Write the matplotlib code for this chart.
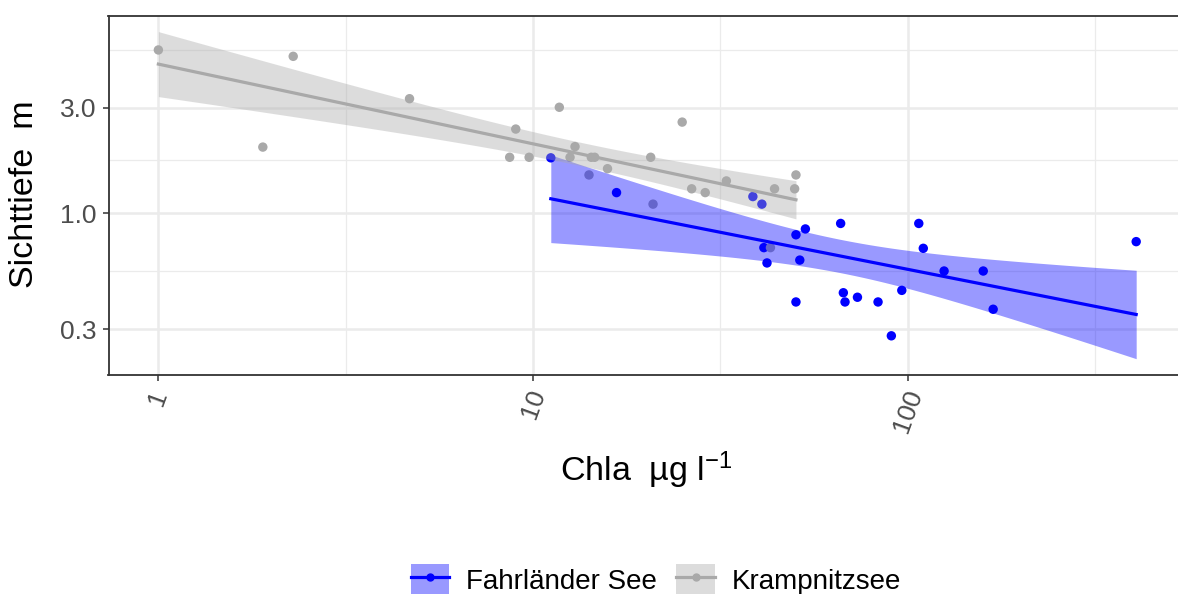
import math
import numpy as np
import matplotlib
matplotlib.use("Agg")
import matplotlib.pyplot as plt
from matplotlib.patches import Patch
from matplotlib.lines import Line2D
from matplotlib.legend_handler import HandlerTuple

plt.rcParams['font.family'] = ['Liberation Sans', 'DejaVu Sans']
plt.rcParams['mathtext.fontset'] = 'custom'
plt.rcParams['mathtext.rm'] = 'Liberation Sans'
plt.rcParams['mathtext.it'] = 'Liberation Sans:italic'

krampnitz_chla = [1.0, 2.29, 4.68, 1.90, 11.75, 8.99, 8.66, 9.76, 12.55, 12.94, 14.3, 14.6,
                  15.8, 14.1, 20.9, 20.6, 25.0, 26.5, 28.8, 32.8, 44.1, 50.3, 49.9, 43.0]
krampnitz_secchi = [5.46, 5.11, 3.29, 1.99, 3.01, 2.40, 1.79, 1.79, 1.79, 2.00, 1.79, 1.79,
                    1.59, 1.49, 1.10, 1.79, 2.58, 1.29, 1.24, 1.40, 1.29, 1.49, 1.29, 0.70]

fahrland_chla = [11.15, 16.7, 38.6, 40.8, 53.3, 50.3, 66.2, 41.3, 42.1, 51.5, 67.3, 68.0,
                 73.4, 83.3, 50.3, 90.4, 96.4, 107, 110, 125, 159, 169, 407]
fahrland_secchi = [1.78, 1.24, 1.19, 1.10, 0.85, 0.80, 0.90, 0.70, 0.597, 0.615, 0.438, 0.398,
                   0.418, 0.398, 0.398, 0.280, 0.449, 0.90, 0.695, 0.549, 0.549, 0.369, 0.745]

lake_names = ["Fahrländer See", "Krampnitzsee"]
lake_colors = ["#0000FF", "#A9A9A9"]

x_breaks = [1, 10, 100]
x_labels = ["1", "10", "100"]
y_breaks = [0.3, 1, 3]
y_labels = ["0.3", "1.0", "3.0"]


def t_quantile(p, df):
    xs = np.linspace(0, 12, 240001)
    c = math.gamma((df + 1) / 2) / (math.sqrt(df * math.pi) * math.gamma(df / 2))
    pdf = c * (1 + xs ** 2 / df) ** (-(df + 1) / 2)
    cdf = 0.5 + np.concatenate([[0], np.cumsum((pdf[1:] + pdf[:-1]) / 2 * (xs[1] - xs[0]))])
    return np.interp(p, cdf, xs)


def lm_smooth(x, y, n=80):
    lx, ly = np.log10(x), np.log10(y)
    A = np.vstack([np.ones_like(lx), lx]).T
    beta, *_ = np.linalg.lstsq(A, ly, rcond=None)
    resid = ly - A @ beta
    dof = len(lx) - 2
    sigma = np.sqrt(np.sum(resid ** 2) / dof)
    grid = np.linspace(lx.min(), lx.max(), n)
    fit = beta[0] + beta[1] * grid
    se = sigma * np.sqrt(1 / len(lx) + (grid - lx.mean()) ** 2 / np.sum((lx - lx.mean()) ** 2))
    t = t_quantile(0.975, dof)
    return 10 ** grid, 10 ** fit, 10 ** (fit - t * se), 10 ** (fit + t * se)


def minor_breaks(breaks):
    # wie ggplot: Mittelpunkte zwischen den Hauptbrüchen (log-Raum), an den Enden erweitert
    b = np.log10(breaks)
    step = b[1] - b[0]
    ext = np.concatenate([[b[0] - step], b, [b[-1] + step]])
    return 10 ** ((ext[:-1] + ext[1:]) / 2)


W, H = 1178, 594
fig = plt.figure(figsize=(W / 100, H / 100), dpi=100)
left, right, top, bottom = 108.5, 1184, 16, 374.5
ax = fig.add_axes([left / W, 1 - bottom / H, (right - left) / W, (bottom - top) / H])
ax.set_xscale("log")
ax.set_yscale("log")

groups = [(fahrland_chla, fahrland_secchi), (krampnitz_chla, krampnitz_secchi)]

# Punkte zuerst (liegen unter den Bändern)
for (cx, sy), col in zip(groups, lake_colors):
    ax.scatter(cx, sy, s=46, color=col, edgecolors="none", zorder=2)

z = 3
for (cx, sy), col in zip(groups, lake_colors):
    gx, gfit, glo, ghi = lm_smooth(np.array(cx), np.array(sy))
    ax.fill_between(gx, glo, ghi, color=col, alpha=0.4, linewidth=0, zorder=z)
    ax.plot(gx, gfit, color=col, lw=2.3, zorder=z + 1)
    z += 2

ax.set_xticks(x_breaks)
ax.set_xticklabels(x_labels, rotation=70)
ax.set_yticks(y_breaks)
ax.set_yticklabels(y_labels)
ax.set_xticks(minor_breaks(x_breaks), minor=True)
ax.set_yticks(minor_breaks(y_breaks), minor=True)
ax.xaxis.set_minor_formatter(plt.NullFormatter())
ax.yaxis.set_minor_formatter(plt.NullFormatter())
ax.set_xlim(0.736, 546)
ax.set_ylim(0.1873, 7.77)

ax.tick_params(which="major", length=4.5, width=1.1, color="#333333", labelcolor="#4D4D4D",
               labelsize=19, pad=4)
ax.tick_params(which="minor", length=0)
ax.grid(which="major", color="#EBEBEB", lw=1.8)
ax.grid(which="minor", color="#EBEBEB", lw=0.9)
ax.set_axisbelow(True)
for sp in ax.spines.values():
    sp.set_color("#333333")
    sp.set_linewidth(1.3)

fig.text(646 / W, 1 - 481 / H, r"Chla  µg l$^{-1}$", ha="center", va="baseline", fontsize=24.5)
fig.text(25 / W, 1 - 194 / H, "Sichttiefe  m", rotation=90, ha="center", va="center", fontsize=24.5)

handles = [(Patch(facecolor=c, alpha=0.4, edgecolor="none"),
            Line2D([], [], color=c, lw=2.3, marker="o", ms=5)) for c in lake_colors]
ax.legend(handles, lake_names, handler_map={tuple: HandlerTuple(ndivide=1, pad=0)},
          loc="center", bbox_to_anchor=(656 / W, 1 - 580 / H), bbox_transform=fig.transFigure,
          ncol=2, frameon=False, fontsize=20, handlelength=1.4, handleheight=1.4,
          handletextpad=0.6, columnspacing=0.7)

fig.savefig("out.png", dpi=100)
